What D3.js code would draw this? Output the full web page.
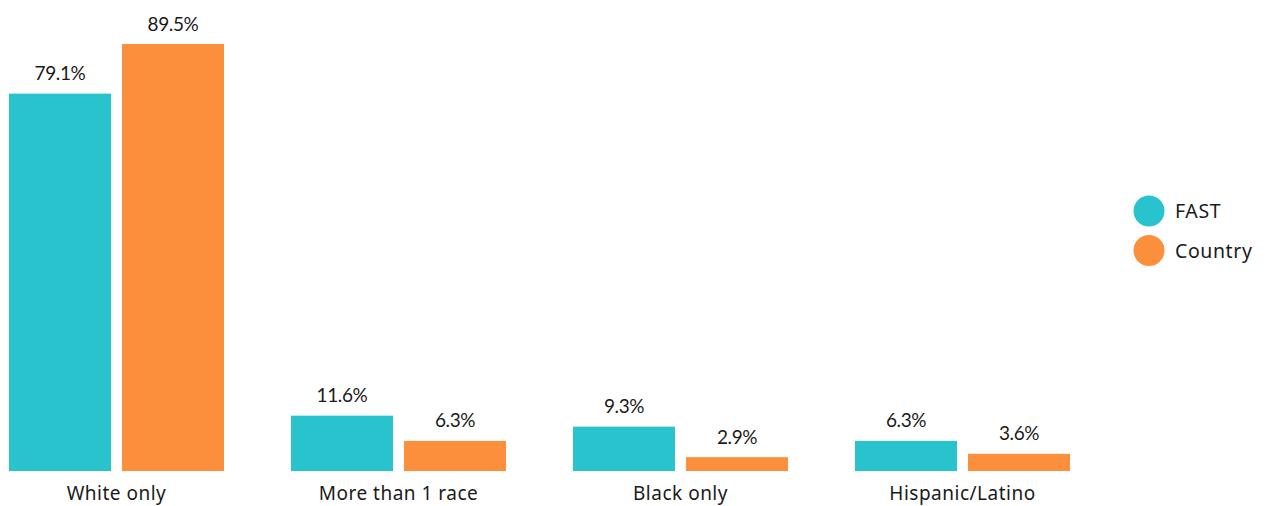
<!DOCTYPE html>
<html><head><meta charset="utf-8">
<script src="https://cdn.jsdelivr.net/npm/d3@7"></script>
<style>body{margin:0;background:#fff;} text{fill:#1a1a1a;} .val{font-family:Lato, sans-serif;} .lbl{font-family:"Noto Sans", sans-serif;}</style>
</head><body>
<svg id="c" width="1267" height="506"></svg>
<script>
const categories = ["White only","More than 1 race","Black only","Hispanic/Latino"];
const seriesNames = ["FAST","Country"];
const fastValues = [79.1, 11.6, 9.3, 6.3];
const countryValues = [89.5, 6.3, 2.9, 3.6];
const colors = ["#29C3CE","#FC8F3B"];

const svg = d3.select("#c");
const baseline = 471;
const y = d3.scaleLinear().domain([0, 89.5]).range([baseline, 44]);
const x0 = d3.scaleBand().domain(categories).range([9, 9 + 282*4 - 67]).paddingInner(67/282).paddingOuter(0);
const x1 = d3.scaleBand().domain(seriesNames).range([0, x0.bandwidth()]).paddingInner(11/113).paddingOuter(0);

const data = categories.map((c,i)=>({cat:c, vals:[fastValues[i], countryValues[i]]}));
const g = svg.selectAll("g.grp").data(data).join("g").attr("class","grp")
  .attr("transform", d=>`translate(${x0(d.cat)},0)`);
g.selectAll("rect").data(d=>d.vals.map((v,j)=>({v, s:seriesNames[j], j})))
  .join("rect")
  .attr("x", d=>x1(d.s)).attr("width", x1.bandwidth())
  .attr("y", d=>y(d.v)).attr("height", d=>baseline - y(d.v))
  .attr("fill", d=>colors[d.j]);
g.selectAll("text.val").data(d=>d.vals.map((v,j)=>({v, s:seriesNames[j]})))
  .join("text").attr("class","val")
  .attr("x", d=>x1(d.s) + x1.bandwidth()/2)
  .attr("y", d=>y(d.v) - 13.5)
  .attr("text-anchor","middle").attr("font-size",19).attr("letter-spacing",-0.4)
  .text(d=>d.v.toFixed(1) + "%");
g.append("text").attr("class","lbl").attr("x", x0.bandwidth()/2).attr("y", 500)
  .attr("text-anchor","middle").attr("font-size",19).attr("letter-spacing",0.5)
  .text(d=>d.cat);

const leg = svg.append("g");
seriesNames.forEach((s,i)=>{
  leg.append("circle").attr("cx",1149).attr("cy",211 + i*39.5).attr("r",15.5).attr("fill",colors[i]);
  leg.append("text").attr("class","lbl").attr("x",1175).attr("y",211 + i*39.5 + 7).attr("font-size",19.5).attr("letter-spacing",0.6).text(s);
});
</script>
</body></html>
